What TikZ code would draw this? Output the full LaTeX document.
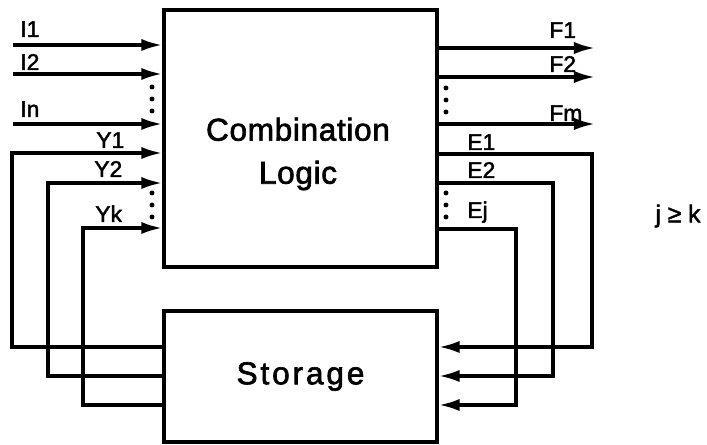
\documentclass[tikz,border=0pt]{standalone}
\usepackage{fontspec}
\setmainfont[FakeBold=2]{Liberation Sans}
\newfontfamily\wideA[LetterSpace=2, FakeBold=2]{Liberation Sans}
\newfontfamily\wideB[LetterSpace=9, FakeBold=2]{Liberation Sans}
\usetikzlibrary{arrows.meta, positioning}

\tikzset{
  box/.style={draw, line width=1.9pt, inner sep=0pt},
  sig/.style={line width=1.9pt, -{Latex[length=12pt,width=7pt]}},
  lbl/.style={font=\fontsize{13}{13}\selectfont, inner sep=0pt, anchor=base west},
  big/.style={align=center},
}

\begin{document}
\begin{tikzpicture}[x=0.02cm, y=-0.02cm]
\useasboundingbox (0,0) rectangle (707,445);

% Blocks
\node[box, minimum width=5.46cm, minimum height=5.14cm] (logic) at (300.5,138.5) {};
\node[big, font=\wideA\fontsize{18}{24.5}\selectfont] (logictxt) at (298,154) {Combination\\Logic};
\node[box, big, font=\wideB\fontsize{18}{24.5}\selectfont, minimum width=5.46cm, minimum height=2.62cm] (store) at (300.5,376.5) {Storage};

% Inputs I
\foreach \y/\n/\ly in {45/1/37, 74/2/70, 124/n/117} {
  \coordinate (in\n) at (13,\y);
  \draw[sig] (in\n) -- (in\n -| logic.west);
  \node[lbl] (lin\n) at (20,\ly) {I\n};
}

% Outputs F
\foreach \y/\n/\ly in {48/1/38, 77/2/72, 124/m/121} {
  \coordinate (out\n) at (595,\y);
  \draw[sig] (out\n -| logic.east) -- (out\n);
  \node[lbl] (lout\n) at (549,\ly) {F\n};
}

% Feedback Y: storage -> logic
\foreach \y/\x/\s/\n/\lx/\ly in {153/12/347/1/96/148, 183/48/376/2/94/177, 228/83/405/k/95/222} {
  \coordinate (ycor\n) at (\x,\y);
  \draw[sig] (store.west |- 0,\s) -| (ycor\n) -- (ycor\n -| logic.west);
  \node[lbl] (ly\n) at (\lx,\ly) {Y\n};
}

% Excitation E: logic -> storage
\foreach \y/\x/\s/\n/\ly in {154/592/347/1/150, 183/553/376/2/178, 229/516/405/j/218} {
  \coordinate (ecor\n) at (\x,\s);
  \draw[sig] (logic.east |- 0,\y) -| (ecor\n) -- (ecor\n -| store.east);
  \node[lbl] (le\n) at (467,\ly) {E\n};
}

% Dots
\foreach \x/\y in {152/87, 152/99, 152/111, 152/193, 152/205, 152/217,
                   446/88, 446/100, 446/112, 446/193, 446/205, 446/217}
  \fill (\x,\y) circle (1.4pt);

\node[font=\fontsize{14}{14}\selectfont] (cond) at (678,216) {j ≥ k};

\end{tikzpicture}
\end{document}
